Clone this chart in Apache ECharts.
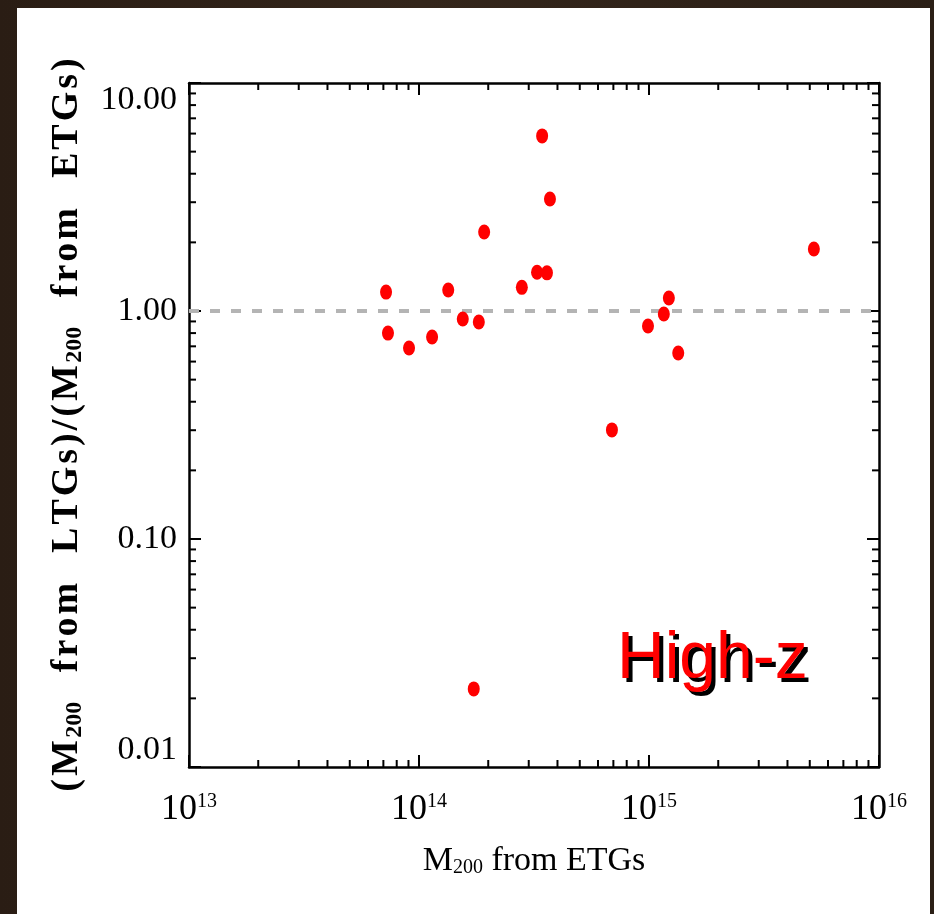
<!DOCTYPE html>
<html>
<head>
<meta charset="utf-8">
<script src="https://cdn.jsdelivr.net/npm/echarts@6/dist/echarts.min.js"></script>
<style>
  html, body { margin: 0; padding: 0; width: 934px; height: 914px; overflow: hidden;
    background: linear-gradient(90deg, #2a1d14 0%, #34261b 45%, #2b1f16 100%); }
  #panel { position: absolute; left: 17px; top: 8px; width: 913px; height: 906px; background: #ffffff; }
  #chart { position: absolute; left: 0; top: 0; width: 934px; height: 914px; }
</style>
</head>
<body>
<div id="panel"></div>
<div id="chart"></div>
<script>
// Cluster halo masses: M200 estimated from early-type galaxies (x)
// and the ratio of the late-type to early-type estimate (y).
const m200ETG = [7.19e13, 7.33e13, 9.05e13, 1.14e14, 1.34e14, 1.55e14, 1.82e14, 1.92e14,
                 2.80e14, 3.26e14, 3.60e14, 3.43e14, 3.71e14, 1.73e14, 6.90e14, 9.9e14,
                 1.16e15, 1.22e15, 1.34e15, 5.21e15];
const massRatio = [1.21, 0.80, 0.688, 0.769, 1.236, 0.923, 0.895, 2.22,
                   1.27, 1.48, 1.47, 5.86, 3.10, 0.022, 0.301, 0.86,
                   0.970, 1.14, 0.654, 1.87];

// Axis ranges (decades) and the unity reference line
const xDecades = [13, 14, 15, 16];
const yTickValues = [0.01, 0.1, 1, 10];
const unityRatio = 1;
const panelLabel = 'High-z';

const xMin = Math.pow(10, xDecades[0]);
const xMax = Math.pow(10, xDecades[xDecades.length - 1]);
const yMin = yTickValues[0];
const yMax = yTickValues[yTickValues.length - 1];

// minor tick positions 2..9 within each decade
function minorValues(lo, hi) {
  const out = [];
  for (let d = Math.round(Math.log10(lo)); d < Math.round(Math.log10(hi)); d++) {
    for (let k = 2; k <= 9; k++) out.push(k * Math.pow(10, d));
  }
  return out;
}
const xMinor = minorValues(xMin, xMax);
const yMinor = minorValues(yMin, yMax);

const points = m200ETG.map((x, i) => [x, massRatio[i]]);

const serif = '"Liberation Serif", "DejaVu Serif", serif';
const axisColor = '#000';

// letter-spaced rich text: every character becomes its own padded token
function spaced(str) {
  return str.split('').map(c => '{p|' + c + '}').join('');
}
const yAxisTitle = spaced('(M') + '{sub|200}{g| }' + spaced('from') + '{g| }' +
                   spaced('LTGs)/(M') + '{sub|200}{g| }' + spaced('from') + '{g| }' + spaced('ETGs)');

function logAxis(extra) {
  return Object.assign({
    type: 'log',
    logBase: 10,
    axisLine: { show: true, lineStyle: { color: axisColor, width: 2.5 } },
    axisTick: { show: true, inside: true, length: 12, lineStyle: { color: axisColor, width: 2 } },
    splitLine: { show: false },
    minorTick: { show: false },
    minorSplitLine: { show: false }
  }, extra);
}

const chart = echarts.init(document.getElementById('chart'), null, { renderer: 'canvas' });

// short inward ticks at 2..9 of each decade on all four sides of the box
function minorTicks(params, api) {
  const children = [];
  const style = { stroke: axisColor, lineWidth: 2 };
  const len = 7;
  xMinor.forEach(v => {
    const b = api.coord([v, yMin]);
    const t = api.coord([v, yMax]);
    children.push({ type: 'line', shape: { x1: b[0], y1: b[1], x2: b[0], y2: b[1] - len }, style });
    children.push({ type: 'line', shape: { x1: t[0], y1: t[1], x2: t[0], y2: t[1] + len }, style });
  });
  yMinor.forEach(v => {
    const l = api.coord([xMin, v]);
    const r = api.coord([xMax, v]);
    children.push({ type: 'line', shape: { x1: l[0], y1: l[1], x2: l[0] + len, y2: l[1] }, style });
    children.push({ type: 'line', shape: { x1: r[0], y1: r[1], x2: r[0] - len, y2: r[1] }, style });
  });
  return { type: 'group', children };
}

chart.setOption({
  backgroundColor: 'transparent',
  animation: false,
  grid: { left: 189, right: 55, top: 83, bottom: 147, outerBoundsMode: 'none', containLabel: false },
  xAxis: [
    logAxis({
      position: 'bottom', min: xMin, max: xMax,
      name: '{m|M}{sub|200}{t| from ETGs}',
      nameLocation: 'middle', nameGap: 77,
      nameTextStyle: {
        rich: {
          m: { fontFamily: serif, fontSize: 34, color: '#000' },
          sub: { fontFamily: serif, fontSize: 20, color: '#000', verticalAlign: 'bottom', padding: [14, 0, 0, 0] },
          t: { fontFamily: serif, fontSize: 34, color: '#000' }
        }
      },
      axisLabel: {
        show: true, margin: 25,
        formatter: v => '{b|10}{s|' + Math.round(Math.log10(v)) + '}',
        rich: {
          b: { fontFamily: serif, fontSize: 36, color: '#000' },
          s: { fontFamily: serif, fontSize: 20, color: '#000', verticalAlign: 'top', padding: [0, 0, 16, 0] }
        }
      }
    }),
    logAxis({ position: 'top', min: xMin, max: xMax, axisLabel: { show: false } })
  ],
  yAxis: [
    logAxis({
      position: 'left', min: yMin, max: yMax,
      name: yAxisTitle,
      nameLocation: 'middle', nameRotate: 90, nameGap: 102,
      nameTextStyle: {
        rich: {
          p: { fontFamily: serif, fontWeight: 'bold', fontSize: 38, color: '#000', padding: [0, 1.5, 0, 1.5] },
          g: { fontFamily: serif, fontSize: 38, width: 27 },
          sub: { fontFamily: serif, fontWeight: 'bold', fontSize: 24, color: '#000', verticalAlign: 'bottom', padding: [15, 1, 0, 1] }
        }
      },
      axisLabel: {
        show: true, margin: 12,
        fontFamily: serif, fontSize: 34, color: '#000',
        verticalAlignMinLabel: 'bottom', verticalAlignMaxLabel: 'top',
        formatter: v => v.toFixed(2)
      }
    }),
    logAxis({ position: 'right', min: yMin, max: yMax, axisLabel: { show: false } })
  ],
  graphic: [
    { type: 'text', left: 621, top: 631, z: 10,
      style: { text: panelLabel, fill: '#000', font: '66px "Liberation Sans", Arial, sans-serif' } },
    { type: 'text', left: 617, top: 627, z: 11,
      style: { text: panelLabel, fill: '#ff0000', font: '66px "Liberation Sans", Arial, sans-serif' } }
  ],
  series: [
    {
      type: 'line', xAxisIndex: 0, yAxisIndex: 0, z: 1,
      data: [[xMin, unityRatio], [xMax, unityRatio]],
      symbol: 'none', silent: true,
      lineStyle: { color: '#b4b4b4', width: 4, type: [10, 11] }
    },
    {
      type: 'custom', xAxisIndex: 0, yAxisIndex: 0, z: 3, silent: true, clip: false,
      data: [[xMin, yMin]],
      renderItem: minorTicks
    },
    {
      type: 'scatter', xAxisIndex: 0, yAxisIndex: 0, z: 4,
      data: points,
      symbol: 'circle', symbolSize: [12, 15],
      itemStyle: { color: '#ff0000', opacity: 1 }
    }
  ]
});
</script>
</body>
</html>
